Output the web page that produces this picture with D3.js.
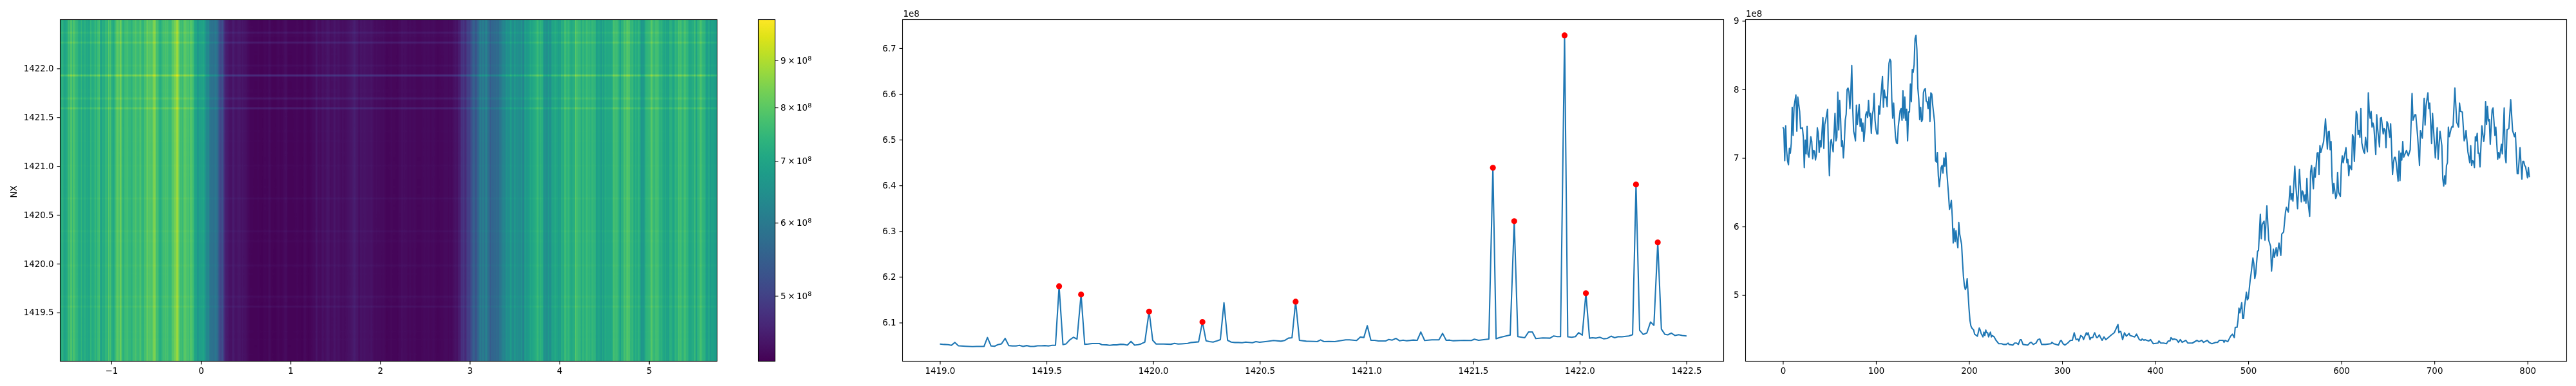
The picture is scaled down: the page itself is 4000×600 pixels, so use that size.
<!DOCTYPE html>
<html><head><meta charset="utf-8">
<script src="https://cdn.jsdelivr.net/npm/d3@7/dist/d3.min.js"></script>
<style>
html,body{margin:0;padding:0;background:#fff;width:4000px;height:600px;overflow:hidden}
#heat{position:absolute;left:93px;top:30px}
svg{position:absolute;left:0;top:0}
text{font-family:"DejaVu Sans",sans-serif;font-size:13.4px;fill:#000}
</style></head><body>
<canvas id="heat"></canvas>
<svg id="fig" width="4000" height="600"></svg>
<script>
// Right panel: intensity along the sample index, [index, value in 1e8].
const columnProfile=[[0,7.45],[1,7.42],[2,6.96],[3,7.47],[4,7.11],[5,6.96],[6,6.90],[7,7.14],[8,7.07],[9,7.21],[10,7.74],[11,7.33],[12,7.75],[14,7.92],[15,7.39],[16,7.89],[18,7.68],[19,7.43],[21,7.44],[22,7.30],[23,6.86],[24,7.26],[25,7.06],[26,7.46],[27,7.05],[28,7.01],[30,7.31],[31,7.24],[32,6.99],[33,7.11],[34,7.10],[35,6.97],[36,7.05],[37,7.44],[38,7.36],[39,7.08],[40,7.25],[41,7.16],[43,7.59],[44,7.14],[45,7.49],[46,7.55],[48,7.71],[49,7.08],[50,6.74],[51,7.22],[52,7.27],[54,7.09],[56,7.65],[57,7.25],[58,7.30],[59,7.96],[60,7.41],[61,7.84],[62,7.58],[63,7.17],[64,7.25],[65,7.00],[66,7.21],[67,7.55],[68,7.64],[69,8.00],[70,8.02],[71,7.96],[72,7.72],[73,7.96],[74,8.35],[75,7.74],[76,7.39],[77,7.33],[78,7.25],[79,7.77],[80,7.49],[82,7.78],[83,7.46],[84,7.57],[85,7.39],[86,7.51],[87,7.24],[88,7.39],[89,7.63],[90,7.67],[91,7.59],[92,7.84],[93,7.61],[94,7.65],[95,7.36],[96,7.63],[97,7.69],[98,7.94],[99,7.55],[100,7.42],[101,7.35],[102,7.35],[103,7.76],[104,7.64],[105,7.86],[106,8.02],[107,8.19],[108,7.74],[109,7.99],[110,7.88],[111,7.89],[112,7.75],[113,8.11],[114,8.38],[115,8.44],[116,8.41],[117,7.86],[118,7.58],[119,7.80],[120,7.52],[121,7.31],[122,7.22],[123,7.21],[124,7.46],[126,7.69],[127,7.72],[128,7.55],[129,7.98],[130,7.58],[131,7.89],[132,7.55],[133,7.71],[134,7.25],[135,7.67],[136,7.67],[137,8.08],[138,7.82],[139,8.29],[140,8.25],[141,8.36],[142,8.74],[143,8.79],[144,8.58],[145,8.02],[146,7.86],[147,7.56],[148,7.74],[149,7.53],[150,7.56],[151,7.95],[152,8.00],[153,8.01],[154,7.83],[155,7.82],[156,7.72],[157,7.89],[158,7.53],[159,7.95],[160,7.93],[161,7.77],[163,7.52],[164,6.96],[165,6.94],[166,7.08],[167,6.74],[168,6.58],[169,6.71],[170,6.86],[171,6.89],[172,6.78],[173,7.00],[174,6.88],[175,7.08],[176,6.82],[178,6.46],[179,6.25],[180,6.30],[181,6.38],[182,6.14],[183,5.76],[184,5.97],[185,5.78],[186,5.94],[187,5.80],[188,5.69],[189,6.06],[190,5.89],[192,5.74],[193,5.49],[194,5.27],[195,5.14],[196,5.08],[197,5.11],[198,5.24],[199,5.02],[200,4.80],[201,4.63],[202,4.55],[203,4.52],[205,4.49],[206,4.43],[207,4.42],[209,4.40],[211,4.52],[212,4.49],[213,4.44],[215,4.39],[216,4.46],[217,4.41],[218,4.49],[219,4.45],[220,4.45],[221,4.39],[223,4.46],[224,4.39],[225,4.41],[227,4.39],[229,4.34],[232,4.29],[235,4.29],[237,4.28],[240,4.28],[242,4.30],[243,4.28],[247,4.27],[249,4.30],[251,4.30],[253,4.28],[255,4.35],[256,4.35],[258,4.28],[263,4.27],[266,4.31],[267,4.31],[269,4.28],[272,4.30],[274,4.35],[276,4.36],[278,4.28],[282,4.28],[288,4.29],[289,4.31],[291,4.29],[296,4.27],[298,4.33],[299,4.34],[301,4.29],[303,4.27],[306,4.30],[309,4.34],[311,4.34],[313,4.45],[315,4.35],[317,4.36],[318,4.33],[320,4.41],[322,4.39],[323,4.35],[326,4.45],[327,4.42],[328,4.45],[330,4.35],[331,4.38],[333,4.38],[334,4.42],[335,4.45],[337,4.38],[338,4.38],[340,4.42],[341,4.39],[343,4.34],[345,4.39],[347,4.35],[353,4.42],[356,4.45],[358,4.51],[360,4.57],[361,4.45],[362,4.47],[363,4.47],[365,4.35],[367,4.45],[369,4.40],[372,4.44],[373,4.41],[378,4.39],[380,4.43],[383,4.35],[385,4.34],[386,4.36],[388,4.34],[389,4.35],[393,4.33],[395,4.35],[398,4.29],[403,4.30],[404,4.33],[406,4.30],[409,4.30],[412,4.29],[414,4.33],[416,4.33],[417,4.38],[419,4.35],[420,4.36],[423,4.35],[425,4.31],[427,4.35],[429,4.31],[433,4.34],[435,4.30],[440,4.30],[445,4.34],[447,4.32],[450,4.34],[452,4.31],[456,4.34],[458,4.31],[461,4.29],[465,4.31],[467,4.31],[469,4.34],[473,4.34],[474,4.31],[475,4.34],[478,4.32],[481,4.40],[483,4.43],[485,4.38],[486,4.53],[488,4.53],[489,4.63],[490,4.81],[491,4.74],[493,4.89],[494,4.66],[495,4.66],[496,4.83],[498,5.04],[499,4.93],[500,4.95],[502,5.21],[503,5.31],[505,5.54],[506,5.46],[507,5.24],[508,5.31],[510,5.64],[511,5.65],[513,6.18],[514,5.82],[515,6.03],[517,6.08],[518,5.80],[520,6.30],[522,5.80],[524,5.71],[525,5.35],[527,5.67],[528,5.55],[530,5.69],[531,5.57],[533,5.76],[535,5.58],[536,5.89],[538,5.92],[540,6.21],[541,6.28],[543,6.21],[545,6.59],[546,6.39],[547,6.48],[548,6.37],[550,6.88],[551,6.62],[553,6.26],[555,6.83],[557,6.36],[558,6.52],[559,6.50],[560,6.37],[561,6.46],[562,6.34],[563,6.70],[564,6.39],[566,6.15],[567,6.80],[568,6.89],[570,6.55],[571,6.86],[572,6.72],[574,7.07],[575,7.08],[576,6.76],[577,7.18],[578,7.08],[581,7.24],[583,7.57],[585,7.13],[586,7.38],[587,7.39],[588,7.12],[589,7.24],[590,6.72],[591,6.48],[592,6.63],[594,6.41],[595,6.45],[596,6.79],[597,6.50],[599,6.44],[600,6.89],[601,7.03],[602,6.93],[605,7.15],[606,6.93],[607,6.98],[608,6.74],[609,6.89],[611,6.83],[612,7.34],[613,7.30],[614,6.95],[616,7.68],[617,7.63],[618,7.34],[619,7.40],[620,7.30],[621,7.72],[622,7.22],[624,7.09],[625,7.07],[626,7.30],[628,7.09],[629,7.95],[630,7.68],[631,7.58],[632,7.68],[633,7.45],[634,7.51],[635,7.45],[637,7.05],[638,7.63],[639,7.43],[641,7.16],[642,7.58],[643,7.59],[645,7.35],[646,7.43],[647,7.41],[648,7.15],[649,7.53],[650,7.50],[652,7.30],[653,7.50],[654,7.15],[655,6.76],[656,6.93],[657,7.01],[658,7.01],[659,6.93],[661,6.66],[662,7.10],[663,6.67],[664,7.07],[665,6.97],[666,7.24],[667,7.01],[670,7.11],[672,7.03],[674,7.12],[676,7.94],[677,7.55],[679,7.63],[680,7.63],[682,7.31],[684,6.89],[685,7.40],[687,7.29],[689,7.87],[690,7.48],[691,7.76],[693,7.95],[694,7.72],[695,7.80],[697,7.21],[698,7.65],[701,7.00],[703,7.44],[704,6.98],[706,7.39],[708,7.18],[709,6.70],[710,6.59],[711,6.74],[712,6.62],[713,6.89],[714,6.93],[715,7.45],[716,7.31],[718,7.43],[719,7.46],[720,7.45],[722,8.02],[724,7.52],[726,7.45],[727,7.80],[728,7.68],[730,7.67],[732,7.25],[733,7.29],[734,7.40],[736,7.09],[738,6.93],[739,7.18],[740,6.89],[741,6.96],[742,6.95],[743,6.86],[744,7.31],[745,7.25],[746,7.36],[747,7.07],[748,7.07],[749,6.87],[751,7.47],[753,7.24],[754,7.34],[755,7.82],[756,7.49],[757,7.75],[758,7.54],[759,7.56],[760,7.20],[762,7.70],[763,7.73],[765,7.33],[766,7.45],[768,6.98],[769,7.08],[770,7.00],[772,7.20],[773,7.06],[775,7.73],[776,7.02],[777,6.93],[778,7.41],[780,7.43],[782,7.85],[784,7.40],[786,7.31],[787,7.37],[789,6.77],[790,6.77],[792,7.15],[794,6.69],[795,6.95],[796,6.95],[797,6.89],[798,6.87],[800,6.71],[801,6.86],[802,6.72]];

// Middle panel: intensity along NX, [NX, value in 1e8].
const rowProfile=[[1419.00,6.0531],[1419.02,6.0522],[1419.039,6.0517],[1419.054,6.0503],[1419.07,6.0565],[1419.087,6.0493],[1419.12,6.0483],[1419.153,6.0474],[1419.172,6.0479],[1419.207,6.0479],[1419.223,6.0674],[1419.24,6.0488],[1419.256,6.0483],[1419.272,6.0517],[1419.289,6.0536],[1419.306,6.0655],[1419.323,6.0498],[1419.34,6.0488],[1419.357,6.0488],[1419.373,6.0503],[1419.39,6.0479],[1419.407,6.0498],[1419.424,6.0479],[1419.441,6.0479],[1419.458,6.0493],[1419.476,6.0493],[1419.492,6.0498],[1419.509,6.0488],[1419.526,6.0503],[1419.542,6.0503],[1419.559,6.1795],[1419.577,6.0517],[1419.592,6.0536],[1419.609,6.0622],[1419.626,6.0679],[1419.643,6.0641],[1419.662,6.1614],[1419.679,6.0526],[1419.696,6.0531],[1419.714,6.0541],[1419.731,6.0541],[1419.748,6.0541],[1419.759,6.0517],[1419.782,6.0512],[1419.796,6.0503],[1419.813,6.0512],[1419.83,6.0512],[1419.847,6.0526],[1419.864,6.0522],[1419.879,6.0507],[1419.896,6.0588],[1419.913,6.0507],[1419.93,6.0517],[1419.944,6.0536],[1419.961,6.0574],[1419.981,6.1242],[1419.998,6.0612],[1420.014,6.0531],[1420.032,6.0531],[1420.049,6.0531],[1420.083,6.0526],[1420.10,6.0545],[1420.117,6.0531],[1420.134,6.0536],[1420.162,6.0545],[1420.179,6.0565],[1420.213,6.0579],[1420.231,6.1013],[1420.248,6.0603],[1420.264,6.0584],[1420.281,6.0574],[1420.298,6.0598],[1420.315,6.0627],[1420.332,6.1433],[1420.349,6.0612],[1420.366,6.0574],[1420.383,6.0565],[1420.40,6.0565],[1420.417,6.056],[1420.434,6.0574],[1420.465,6.056],[1420.482,6.0584],[1420.499,6.057],[1420.533,6.0588],[1420.565,6.0608],[1420.599,6.0593],[1420.616,6.0608],[1420.634,6.066],[1420.651,6.0669],[1420.668,6.1457],[1420.686,6.0612],[1420.718,6.0593],[1420.755,6.0588],[1420.769,6.0584],[1420.785,6.0622],[1420.801,6.0584],[1420.823,6.0588],[1420.852,6.0584],[1420.869,6.0598],[1420.903,6.0622],[1420.92,6.0622],[1420.954,6.0608],[1420.971,6.0684],[1420.988,6.0674],[1421.004,6.0932],[1421.021,6.0612],[1421.039,6.0612],[1421.056,6.0598],[1421.09,6.0598],[1421.105,6.0631],[1421.121,6.0617],[1421.138,6.0655],[1421.155,6.0603],[1421.172,6.0617],[1421.189,6.0603],[1421.22,6.0617],[1421.238,6.0612],[1421.255,6.0794],[1421.273,6.0608],[1421.307,6.0622],[1421.34,6.0622],[1421.357,6.0765],[1421.374,6.0612],[1421.39,6.0617],[1421.407,6.0603],[1421.458,6.0612],[1421.492,6.0608],[1421.506,6.0636],[1421.526,6.0612],[1421.574,6.0641],[1421.593,6.4385],[1421.608,6.0646],[1421.629,6.0679],[1421.651,6.0703],[1421.674,6.0727],[1421.693,6.3217],[1421.71,6.0693],[1421.742,6.0669],[1421.76,6.0794],[1421.778,6.0794],[1421.794,6.065],[1421.827,6.0665],[1421.861,6.066],[1421.878,6.0708],[1421.895,6.0693],[1421.91,6.0693],[1421.929,6.7281],[1421.944,6.0689],[1421.963,6.0679],[1421.98,6.0693],[1421.995,6.0779],[1422.012,6.0727],[1422.029,6.1642],[1422.046,6.066],[1422.06,6.0669],[1422.077,6.066],[1422.094,6.0679],[1422.112,6.0646],[1422.13,6.0655],[1422.147,6.0703],[1422.164,6.0669],[1422.181,6.0693],[1422.198,6.0689],[1422.23,6.0708],[1422.248,6.0736],[1422.264,6.402],[1422.281,6.0832],[1422.298,6.0741],[1422.315,6.0774],[1422.332,6.1013],[1422.348,6.0941],[1422.366,6.2754],[1422.383,6.0856],[1422.40,6.0741],[1422.413,6.0731],[1422.43,6.077],[1422.447,6.0717],[1422.464,6.0736],[1422.481,6.0717],[1422.501,6.0708]];

// Red markers of the middle panel: NX positions of the detected peaks.
const peakNx=[1419.559,1419.662,1419.981,1420.231,1420.668,1421.593,1421.693,1421.929,1422.029,1422.264,1422.366];

// Tick labels and axis limits.
const heatXTicks=[-1,0,1,2,3,4,5];
const nxTicks=[1419.5,1420,1420.5,1421,1421.5,1422];
const colorbarTicks=[5,6,7,8,9];
const rowXTicks=[1419,1419.5,1420,1420.5,1421,1421.5,1422,1422.5];
const rowYTicks=[6.1,6.2,6.3,6.4,6.5,6.6,6.7];
const colXTicks=[0,100,200,300,400,500,600,700,800];
const colYTicks=[5,6,7,8,9];
const heatTLimits=[-1.57,5.76], heatNxLimits=[1419,1422.5], colorLimits=[4.25,9.97];
const rowBaseline=6.05; // level of the quiet rows in the middle panel

const plotTop=30.5,plotBottom=561.5;
const svg=d3.select("#fig");
const xHeat=d3.scaleLinear().domain(heatTLimits).range([93.5,1113.5]);
const yHeat=d3.scaleLinear().domain(heatNxLimits).range([plotBottom,plotTop]);
const colorScale=d3.scaleSequentialLog(d3.interpolateViridis).domain(colorLimits);
const yBar=d3.scaleLog().domain(colorLimits).range([plotBottom,plotTop]);
const xRow=d3.scaleLinear().domain([1418.825,1422.675]).range([1401.5,2676.5]);
const yRow=d3.scaleLinear().domain([6.0155,6.7625]).range([plotBottom,plotTop]);
const xCol=d3.scaleLinear().domain([-40.1,842.1]).range([2710.5,3985.5]);
const yCol=d3.scaleLinear().domain([4.035,9.018]).range([plotBottom,plotTop]);

// Heat map: each cell combines the two profiles read above (column level x relative row level).
const colAt=d3.scaleLinear().domain(columnProfile.map(d=>d[0])).range(columnProfile.map(d=>d[1])).clamp(true);
const rowAt=d3.scaleLinear().domain(rowProfile.map(d=>d[0])).range(rowProfile.map(d=>d[1])).clamp(true);
const tToIndex=d3.scaleLinear().domain(heatTLimits).range([0,802]);
const cv=document.getElementById("heat");
const W=1021,H=532;cv.width=W;cv.height=H;
const ctx=cv.getContext("2d");
for(let py=0;py<H;py++){
  const ratio=rowAt(yHeat.invert(py+30.5))/rowBaseline;
  for(let px=0;px<W;px++){
    ctx.fillStyle=colorScale(colAt(tToIndex(xHeat.invert(px+93.5)))*ratio);
    ctx.fillRect(px,py,1,1);
  }
}

function frame(x0,x1){
  svg.append("rect").attr("x",x0).attr("y",plotTop).attr("width",x1-x0).attr("height",plotBottom-plotTop)
    .attr("fill","none").attr("stroke","#000").attr("stroke-width",1.1);
}
function xAxis(scale,ticks,fmt){
  const g=svg.append("g").attr("transform",`translate(0,${plotBottom})`)
    .call(d3.axisBottom(scale).tickValues(ticks).tickFormat(fmt).tickSize(5).tickSizeOuter(0).tickPadding(5));
  g.select(".domain").remove();g.selectAll("line").attr("stroke","#000").attr("stroke-width",1.1);
  g.attr("font-family",null).attr("font-size",null);
  g.selectAll("text").attr("fill","#000");
}
function yAxis(scale,ticks,fmt,x0){
  const g=svg.append("g").attr("transform",`translate(${x0},0)`)
    .call(d3.axisLeft(scale).tickValues(ticks).tickFormat(fmt).tickSize(5).tickSizeOuter(0).tickPadding(5));
  g.select(".domain").remove();g.selectAll("line").attr("stroke","#000").attr("stroke-width",1.1);
  g.attr("font-family",null).attr("font-size",null);
  g.selectAll("text").attr("fill","#000");
}
const f1=d3.format(".1f"), f0=d3.format("d");

// Panel 1
frame(93.5,1113.5);
xAxis(xHeat,heatXTicks,d=>d<0?"\u2212"+Math.abs(d):String(d));
yAxis(yHeat,nxTicks,f1,93.5);
svg.append("text").attr("transform","translate(26,298) rotate(-90)").attr("text-anchor","middle").text("NX");

// Colour bar
const barX0=1177.5,barX1=1203.5;
const defs=svg.append("defs");
const grad=defs.append("linearGradient").attr("id","cb").attr("x1",0).attr("x2",0).attr("y1",1).attr("y2",0);
d3.range(0,1.0001,0.05).forEach(t=>grad.append("stop").attr("offset",t).attr("stop-color",d3.interpolateViridis(t)));
svg.append("rect").attr("x",barX0).attr("y",plotTop).attr("width",barX1-barX0).attr("height",plotBottom-plotTop).attr("fill","url(#cb)");
frame(barX0,barX1);
const bt=svg.append("g").selectAll("g").data(colorbarTicks).join("g").attr("transform",d=>`translate(${barX1},${yBar(d)})`);
bt.append("line").attr("x2",5).attr("stroke","#000").attr("stroke-width",1.1);
const bl=bt.append("text").attr("x",8.5).attr("dy","0.35em");
bl.append("tspan").text(d=>d+"\u2009\u00d7\u200910");
bl.append("tspan").attr("dy",-5).attr("style","font-size:9.5px").text("8");

// Panel 2
frame(1401.5,2676.5);
xAxis(xRow,rowXTicks,f1);
yAxis(yRow,rowYTicks,f1,1401.5);
svg.append("text").attr("x",1402.5).attr("y",26).text("1e8");
svg.append("path").datum(rowProfile).attr("fill","none").attr("stroke","#1f77b4").attr("stroke-width",2.08)
  .attr("stroke-linejoin","round").attr("d",d3.line().x(d=>xRow(d[0])).y(d=>yRow(d[1])));
svg.append("g").selectAll("circle").data(peakNx).join("circle")
  .attr("cx",d=>xRow(d)).attr("cy",d=>yRow(rowAt(d))).attr("r",4.6).attr("fill","#f00");

// Panel 3
frame(2710.5,3985.5);
xAxis(xCol,colXTicks,f0);
yAxis(yCol,colYTicks,f0,2710.5);
svg.append("text").attr("x",2711).attr("y",26).text("1e8");
svg.append("path").datum(columnProfile).attr("fill","none").attr("stroke","#1f77b4").attr("stroke-width",2.08)
  .attr("stroke-linejoin","round").attr("d",d3.line().x(d=>xCol(d[0])).y(d=>yCol(d[1])));
</script>
</body></html>
